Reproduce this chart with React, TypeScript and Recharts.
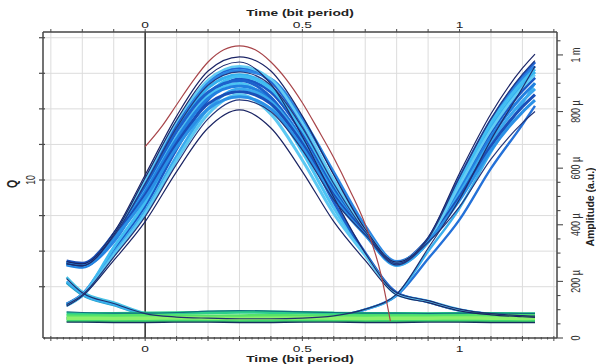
import React from 'react';
import { LineChart, Line, XAxis, YAxis, CartesianGrid, ReferenceLine } from 'recharts';

// ---------- data (amplitude in µ a.u.) ----------
const T = [-0.25, -0.2, -0.1, 0, 0.1, 0.2, 0.3, 0.4, 0.5, 0.6, 0.7, 0.8, 0.9, 1.0, 1.1, 1.2, 1.24];

// "1" pulses (navy outlines)
const TR_A = [270, 262, 372, 576, 784, 943, 993, 943, 784, 576, 385, 268, 355, 582, 792, 953, 1003];
const TR_B2 = [263, 255, 360, 545, 743, 893, 940, 893, 743, 545, 376, 263, 350, 568, 774, 931, 980];
const TR_B = [262, 255, 365, 566, 770, 926, 975, 897, 712, 497, 300, 160, 132, 102, 86, 79, 77];
const TR_C = [112, 148, 274, 411, 588, 742, 806, 742, 588, 411, 274, 152, 125, 96, 82, 75, 73];
const TR_D = [118, 152, 286, 429, 614, 774, 841, 799, 664, 488, 365, 258, 338, 464, 632, 760, 800];
const TR_E = [210, 160, 122, 86, 74, 70, 68, 68, 70, 78, 102, 155, 317, 490, 700, 883, 960];
// dense band traces
const TR_F = [266, 258, 360, 554, 754, 907, 955, 907, 754, 554, 380, 265, 350, 566, 770, 926, 975];
const TR_G = [260, 252, 355, 539, 735, 884, 930, 884, 735, 539, 372, 260, 345, 545, 743, 893, 940];
const TR_H = [120, 154, 311, 467, 668, 842, 915, 869, 723, 531, 370, 262, 342, 534, 727, 874, 920];
const TR_I = [268, 260, 358, 522, 711, 855, 900, 828, 657, 459, 296, 158, 130, 100, 84, 77, 75];
const TR_J = [258, 250, 350, 516, 703, 846, 890, 846, 703, 516, 368, 258, 340, 522, 711, 855, 900];
const TR_K = [116, 150, 299, 449, 642, 810, 880, 836, 695, 510, 366, 256, 338, 510, 695, 836, 880];
const TR_L = [272, 264, 362, 505, 687, 827, 870, 827, 687, 505, 372, 266, 348, 499, 679, 817, 860];
const TR_M = [114, 150, 292, 439, 628, 791, 860, 791, 628, 439, 292, 155, 128, 98, 83, 76, 74];
const TR_N = [264, 256, 352, 494, 673, 809, 852, 809, 673, 494, 364, 260, 342, 487, 664, 798, 840];
const TR_S = [262, 254, 340, 520, 735, 900, 945, 915, 775, 585, 395, 270, 345, 548, 760, 915, 960];
const TR_T = [118, 152, 320, 480, 690, 860, 925, 880, 735, 545, 378, 262, 340, 552, 760, 905, 950];
const TR_U = [266, 258, 368, 540, 730, 868, 910, 850, 690, 480, 300, 160, 128, 98, 83, 76, 74];
const TR_V = [262, 256, 365, 560, 765, 912, 960, 915, 760, 560, 383, 266, 348, 540, 735, 885, 930];
const TR_O = [70, 69, 68, 67, 67, 66, 66, 66, 68, 76, 100, 150, 280, 418, 599, 754, 820];
const TR_P = [200, 155, 118, 84, 73, 69, 67, 67, 69, 77, 101, 152, 306, 459, 657, 828, 900];
const TR_Q = [215, 163, 126, 88, 76, 71, 69, 68, 68, 67, 67, 67, 67, 67, 67, 67, 67];
const TR_R = [195, 152, 116, 82, 72, 68, 66, 66, 66, 66, 66, 66, 66, 66, 66, 66, 66];
// "0" level traces
const Z1 = [56, 56, 55, 55, 56, 56, 55, 55, 56, 56, 55, 55, 56, 56, 55, 55, 55];
const Z2 = [63, 62, 62, 63, 62, 62, 63, 62, 62, 63, 62, 62, 63, 62, 62, 63, 63];
const Z3 = [70, 70, 69, 70, 71, 70, 69, 70, 71, 70, 69, 70, 70, 71, 70, 69, 70];
const Z4 = [78, 77, 78, 79, 78, 77, 78, 79, 78, 77, 78, 78, 77, 78, 79, 78, 78];
const Z5 = [86, 85, 86, 87, 88, 90, 92, 91, 89, 87, 86, 86, 85, 86, 86, 85, 85];
const Z6 = [92, 90, 88, 88, 90, 95, 97, 95, 92, 90, 88, 88, 87, 88, 88, 87, 87];

// red envelope curve
const RED_T = [0, 0.05, 0.1, 0.15, 0.2, 0.25, 0.3, 0.35, 0.4, 0.45, 0.5, 0.55, 0.6, 0.65, 0.7, 0.75, 0.78];
const RED_V = [676, 743, 824, 905, 975, 1018, 1032, 1018, 975, 912, 831, 736, 637, 525, 401, 225, 60];

// ticks
const TIME_TICKS = [-0.3, -0.2, -0.1, 0, 0.1, 0.2, 0.3, 0.4, 0.5, 0.6, 0.7, 0.8, 0.9, 1, 1.1, 1.2, 1.3];
const TIME_LABEL_VALUES = [0, 0.5, 1];
const TIME_LABEL_TEXT = ['0', '0.5', '1'];
const FINE_TICKS = Array.from({ length: 82 }, (_, i) => +(-0.32 + i * 0.02).toFixed(2));
const Q_TICKS = [7, 8, 9, 10, 11, 12, 13, 14];
const Q_LABEL_VALUES = [10];
const AMP_TICKS = Array.from({ length: 22 }, (_, i) => i * 50);
const AMP_LABEL_VALUES = [0, 200, 400, 600, 800, 1000];
const AMP_LABEL_TEXT = ['0', '200 µ', '400 µ', '600 µ', '800 µ', '1 m'];

// ---------- series styling ----------
const SERIES: { key: string; values: number[]; color: string; w: number }[] = [
  { key: 'Q', values: TR_Q, color: '#47c2e6', w: 2.4 },
  { key: 'R', values: TR_R, color: '#1f9fc2', w: 2.4 },
  { key: 'O', values: TR_O, color: '#2471d8', w: 2.4 },
  { key: 'P', values: TR_P, color: '#3ab0ee', w: 2.4 },
  { key: 'F', values: TR_F, color: '#1f63d3', w: 3 },
  { key: 'S', values: TR_S, color: '#2b86e4', w: 3 },
  { key: 'G', values: TR_G, color: '#35b2f0', w: 3 },
  { key: 'H', values: TR_H, color: '#1b57c4', w: 3 },
  { key: 'T', values: TR_T, color: '#42bdf2', w: 3 },
  { key: 'I', values: TR_I, color: '#4cc4f4', w: 3 },
  { key: 'J', values: TR_J, color: '#2280e0', w: 3 },
  { key: 'U', values: TR_U, color: '#1c62cc', w: 3 },
  { key: 'K', values: TR_K, color: '#3aa9ee', w: 3 },
  { key: 'L', values: TR_L, color: '#1a4fb8', w: 3 },
  { key: 'V', values: TR_V, color: '#63ccf4', w: 2.5 },
  { key: 'M', values: TR_M, color: '#5cc8f2', w: 3 },
  { key: 'N', values: TR_N, color: '#2a90e6', w: 3 },
  { key: 'Z5', values: Z5, color: '#2ccf8a', w: 3.5 },
  { key: 'Z4', values: Z4, color: '#55e26a', w: 3.5 },
  { key: 'Z2', values: Z2, color: '#3fd86e', w: 3.5 },
  { key: 'Z3', values: Z3, color: '#8cf06c', w: 3.5 },
  { key: 'Z6', values: Z6, color: '#0f6f80', w: 1.2 },
  { key: 'Z1', values: Z1, color: '#15305e', w: 1.4 },
  { key: 'A', values: TR_A, color: '#1c2566', w: 1.2 },
  { key: 'B2', values: TR_B2, color: '#243a80', w: 1.2 },
  { key: 'B', values: TR_B, color: '#1d2a6d', w: 1.2 },
  { key: 'C', values: TR_C, color: '#1a2463', w: 1.2 },
  { key: 'D', values: TR_D, color: '#233478', w: 1.2 },
  { key: 'E', values: TR_E, color: '#1f2f70', w: 1.2 },
];

const eyeData = T.map((t, i) => {
  const row: Record<string, number> = { t };
  SERIES.forEach((s) => {
    row[s.key] = s.values[i];
  });
  return row;
});
const redData = RED_T.map((t, i) => ({ t, v: RED_V[i] }));

// ---------- styling helpers ----------
const FONT = '"Liberation Sans", Arial, sans-serif';
const SX = 1.45;
const AX = '#4a4a4a';
const near = (a: number, b: number) => Math.abs(a - b) < 1e-6;

const TopTick = (p: any) => {
  const v = p.payload.value;
  const idx = TIME_LABEL_VALUES.findIndex((l) => near(l, v));
  return (
    <g>
      <line x1={p.x} x2={p.x} y1={p.y} y2={p.y - 3} stroke={AX} strokeWidth={1} />
      {idx >= 0 && (
        <g transform={`translate(${p.x},${p.y - 4.5}) scale(${SX},1)`}>
          <text x={0} y={0} textAnchor="middle" fontSize={9.5} fontFamily={FONT} fill="#222">
            {TIME_LABEL_TEXT[idx]}
          </text>
        </g>
      )}
    </g>
  );
};

const BottomTick = (p: any) => {
  const v = p.payload.value;
  const major = near(v * 10, Math.round(v * 10));
  const idx = TIME_LABEL_VALUES.findIndex((l) => near(l, v));
  return (
    <g>
      <line x1={p.x} x2={p.x} y1={p.y - (major ? 2 : 1)} y2={p.y + (major ? 3 : 1.5)} stroke={AX} strokeWidth={1} />
      {idx >= 0 && (
        <g transform={`translate(${p.x},${p.y + 14}) scale(${SX},1)`}>
          <text x={0} y={0} textAnchor="middle" fontSize={9.5} fontFamily={FONT} fill="#222">
            {TIME_LABEL_TEXT[idx]}
          </text>
        </g>
      )}
    </g>
  );
};

const QTick = (p: any) => {
  const v = p.payload.value;
  const show = Q_LABEL_VALUES.some((l) => near(l, v));
  return (
    <g>
      <line x1={p.x - 4} x2={p.x + 2} y1={p.y} y2={p.y} stroke={AX} strokeWidth={1.2} />
      {show && (
        <g transform={`translate(${p.x - 8},${p.y}) scale(${SX},1) rotate(-90)`}>
          <text x={0} y={0} textAnchor="middle" fontSize={8.5} fontFamily={FONT} fill="#333">
            {String(v)}
          </text>
        </g>
      )}
    </g>
  );
};

const AmpTick = (p: any) => {
  const v = p.payload.value;
  const idx = AMP_LABEL_VALUES.findIndex((l) => near(l, v));
  const major = idx >= 0;
  return (
    <g>
      <line x1={p.x} x2={p.x + (major ? 6 : 3.5)} y1={p.y} y2={p.y} stroke={AX} strokeWidth={1.1} />
      {major && (
        <g transform={`translate(${p.x + 23},${p.y}) scale(${SX},1) rotate(-90)`}>
          <text x={0} y={0} textAnchor="middle" fontSize={9} fontFamily={FONT} fill="#333">
            {AMP_LABEL_TEXT[idx]}
          </text>
        </g>
      )}
    </g>
  );
};

const W = 596;
const H = 364;

export default function App() {
  return (
    <div style={{ position: 'relative', width: W, height: H, background: '#fff', overflow: 'hidden' }}>
      <style>{`body{margin:0;background:#fff}`}</style>
      <LineChart width={W} height={H} data={eyeData} margin={{ top: 0, right: 0, bottom: 0, left: 0 }}>
        <CartesianGrid xAxisId="top" yAxisId="q" stroke="#dcdcdc" strokeWidth={1} />
        <XAxis
          xAxisId="top"
          orientation="top"
          type="number"
          dataKey="t"
          domain={[-0.325, 1.31]}
          allowDataOverflow
          ticks={TIME_TICKS}
          interval={0}
          height={32}
          tickSize={0}
          tickMargin={0}
          tickLine={false}
          tick={<TopTick />}
          axisLine={{ stroke: AX, strokeWidth: 1.5 }}
        />
        <XAxis
          xAxisId="bottom"
          orientation="bottom"
          type="number"
          dataKey="t"
          domain={[-0.325, 1.31]}
          allowDataOverflow
          ticks={FINE_TICKS}
          interval={0}
          height={26}
          tickSize={0}
          tickMargin={0}
          tickLine={false}
          tick={<BottomTick />}
          axisLine={{ stroke: AX, strokeWidth: 1.5 }}
        />
        <YAxis
          yAxisId="q"
          orientation="left"
          type="number"
          domain={[5.558, 14.161]}
          allowDataOverflow
          ticks={Q_TICKS}
          interval={0}
          width={43}
          tickSize={0}
          tickMargin={0}
          tickLine={false}
          tick={<QTick />}
          axisLine={{ stroke: AX, strokeWidth: 1.5 }}
        />
        <YAxis
          yAxisId="amp"
          orientation="right"
          type="number"
          domain={[0, 1081]}
          allowDataOverflow
          ticks={AMP_TICKS}
          interval={0}
          width={39}
          tickSize={0}
          tickMargin={0}
          tickLine={false}
          tick={<AmpTick />}
          axisLine={{ stroke: AX, strokeWidth: 1.5 }}
        />
        <ReferenceLine xAxisId="bottom" yAxisId="amp" x={0} stroke="#3a3a3a" strokeWidth={1.6} />
        {SERIES.map((s) => (
          <Line
            key={s.key}
            xAxisId="bottom"
            yAxisId="amp"
            dataKey={s.key}
            type="monotone"
            stroke={s.color}
            strokeWidth={s.w}
            dot={false}
            activeDot={false}
            isAnimationActive={false}
          />
        ))}
        <Line
          xAxisId="bottom"
          yAxisId="amp"
          data={redData}
          dataKey="v"
          type="monotone"
          stroke="#a8454a"
          strokeWidth={1.2}
          dot={false}
          activeDot={false}
          isAnimationActive={false}
        />
      </LineChart>
      <svg width={W} height={H} style={{ position: 'absolute', left: 0, top: 0, pointerEvents: 'none' }}>
        <g transform={`translate(300,15.5) scale(${SX},1)`}>
          <text x={0} y={0} textAnchor="middle" fontSize={9.5} fontWeight="bold" fontFamily={FONT} fill="#222">
            Time (bit period)
          </text>
        </g>
        <g transform={`translate(300,362) scale(${SX},1)`}>
          <text x={0} y={0} textAnchor="middle" fontSize={9.5} fontWeight="bold" fontFamily={FONT} fill="#222">
            Time (bit period)
          </text>
        </g>
        <g transform={`translate(17,184) scale(${SX},1) rotate(-90)`}>
          <text x={0} y={0} textAnchor="middle" fontSize={10.5} fontWeight="bold" fontFamily={FONT} fill="#222">
            Q
          </text>
        </g>
        <g transform={`translate(594,207) scale(1.1,1) rotate(-90)`}>
          <text x={0} y={0} textAnchor="middle" fontSize={10.5} fontWeight="bold" fontFamily={FONT} fill="#222">
            Amplitude (a.u.)
          </text>
        </g>
      </svg>
    </div>
  );
}
